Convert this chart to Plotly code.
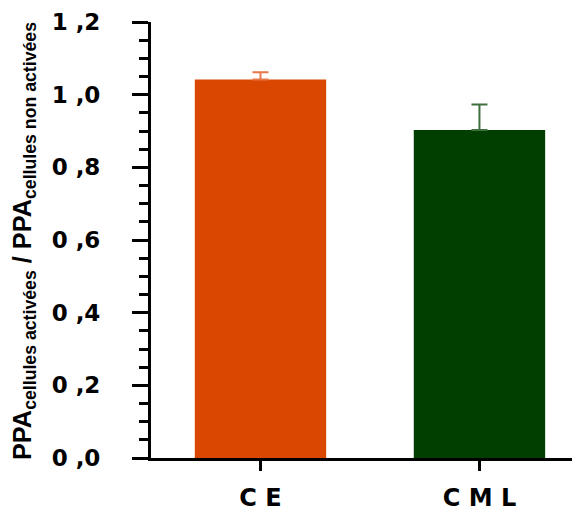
import plotly.graph_objects as go

categories = ["C E", "C M L"]
values = [1.042, 0.903]
errors_plus = [0.02, 0.07]
bar_colors = ["#DA4700", "#003F00"]
error_colors = ["#E8774A", "#3F6F3F"]
ytick_vals = [0.0, 0.2, 0.4, 0.6, 0.8, 1.0, 1.2]
ytick_text = ["0 ,0", "0 ,2", "0 ,4", "0 ,6", "0 ,8", "1 ,0", "1 ,2"]
y_title = "PPA<sub>cellules activées</sub> / PPA<sub>cellules non activées</sub>"

FONT = "Liberation Sans, Arial, sans-serif"
TICKFONT = "DejaVu Sans, Liberation Sans, sans-serif"

fig = go.Figure()
for i, cat in enumerate(categories):
    fig.add_trace(go.Bar(
        x=[cat], y=[values[i]],
        marker=dict(color=bar_colors[i], line=dict(width=0)),
        width=0.6,
        error_y=dict(type="data", symmetric=False, array=[errors_plus[i]], arrayminus=[0],
                     color=error_colors[i], thickness=2, width=8),
        showlegend=False,
    ))

# page body has an 8px margin, so the figure is 8px smaller than the window
fig.update_layout(
    width=572, height=503,
    margin=dict(l=143, r=2, t=14, b=53),
    plot_bgcolor="white", paper_bgcolor="white",
    font=dict(family=FONT, color="black"),
    bargap=0.4,
)
fig.update_xaxes(
    type="category", range=[-0.5, 1.45],
    showline=True, linewidth=3, linecolor="black",
    ticks="outside", ticklen=10, tickwidth=3, tickcolor="black",
    tickfont=dict(size=24, family=TICKFONT, weight="bold"),
    ticklabelstandoff=6, ticklabeloverflow="allow",
    showgrid=False, zeroline=False, automargin=False,
)
fig.update_yaxes(
    range=[0, 1.2],
    tickvals=ytick_vals, ticktext=ytick_text,
    showline=True, linewidth=3, linecolor="black",
    ticks="outside", ticklen=16, tickwidth=3, tickcolor="black",
    minor=dict(dtick=0.05, ticks="outside", ticklen=9, tickwidth=3, tickcolor="black", showgrid=False),
    tickfont=dict(size=23, family=TICKFONT, weight="bold"),
    ticklabelstandoff=27, ticklabeloverflow="allow",
    showgrid=False, zeroline=False, automargin=False,
)
fig.add_annotation(
    text=y_title, textangle=-90, showarrow=False,
    xref="paper", yref="paper", x=0, y=0.5,
    xanchor="center", yanchor="middle", xshift=-127, yshift=-1,
    font=dict(size=25.3, family=FONT, weight="bold", color="black"),
)

fig.write_html("out.html")
